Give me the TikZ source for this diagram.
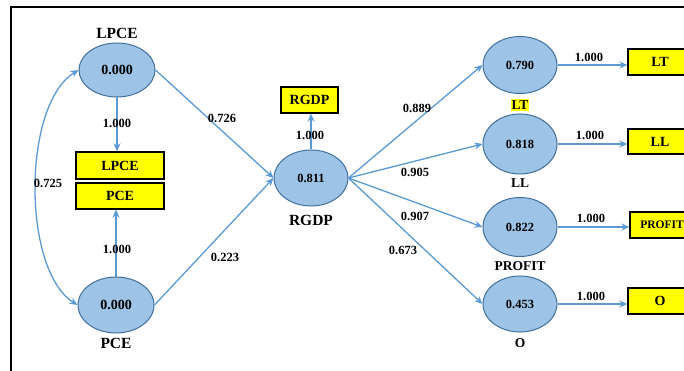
\documentclass[tikz,border=0pt]{standalone}
\usepackage{fontspec}
\setmainfont{Liberation Serif}
\usetikzlibrary{shapes.geometric,arrows.meta}
\definecolor{efill}{HTML}{9DC3E6}
\definecolor{edraw}{HTML}{41719C}
\definecolor{arr}{HTML}{5B9BD5}
\definecolor{ybox}{HTML}{FFFF00}
\tikzset{
  lat/.style={ellipse, draw=edraw, line width=1pt, fill=efill, minimum width=74pt, minimum height=57pt, inner sep=0pt, font=\bfseries\fontsize{12.5}{13}\selectfont},
  latL/.style={lat, minimum width=76pt, minimum height=54pt, font=\bfseries\fontsize{14}{15}\selectfont},
  ind/.style={rectangle, draw=black, line width=1.3pt, fill=ybox, inner sep=0pt, font=\bfseries\fontsize{14}{15}\selectfont},
  conn/.style={draw=arr, line width=1.3pt, -{Stealth[length=8pt,width=7pt]}},
  lbl/.style={font=\bfseries\fontsize{12.5}{13}\selectfont, inner sep=0pt},
  nameL/.style={font=\bfseries\fontsize{15.5}{16}\selectfont, inner sep=0pt},
  nameR/.style={font=\bfseries\fontsize{13.5}{14}\selectfont, inner sep=0pt}
}
\begin{document}
\begin{tikzpicture}[x=1pt,y=-1pt]
\useasboundingbox (0,0) rectangle (684,371);
\clip (0,0) rectangle (684,371);
\fill[white] (0,0) rectangle (684,371);
\draw[black, line width=1.4pt] (11,371) -- (11,7) -- (690,7);

% latent ellipses
\node[latL] (lpce) at (117,70) {0.000};
\node[latL, minimum height=56pt] (pce) at (116,305) {0.000};
\node[lat, minimum height=56pt] (rgdp) at (311,178) {0.811};
\node[lat] (lt) at (520,65) {0.790};
\node[lat, minimum height=60pt] (ll) at (520,144) {0.818};
\node[lat, minimum height=59pt] (profit) at (520,227) {0.822};
\node[lat, minimum height=56pt] (o) at (520,304) {0.453};

% names
\node[nameL] (nlpce) at (117,33) {LPCE};
\node[nameL] (npce) at (116,343) {PCE};
\node[nameL] (nrgdp) at (311,220) {RGDP};
\node[nameR, fill=ybox, inner xsep=1pt, inner ysep=1.5pt] (nlt) at (520,105) {LT};
\node[nameR] (nll) at (520,183) {LL};
\node[nameR] (nprofit) at (520,266) {PROFIT};
\node[nameR] (no) at (520,343) {O};

% indicator boxes
\node[ind, minimum width=88pt, minimum height=27pt] (blpce) at (120,165.5) {LPCE};
\node[ind, minimum width=88pt, minimum height=26pt] (bpce) at (120,196) {PCE};
\node[ind, minimum width=57pt, minimum height=26pt] (brgdp) at (309.5,100) {RGDP};
\node[ind, minimum width=64pt, minimum height=26pt] (blt) at (660,62) {LT};
\node[ind, minimum width=64pt, minimum height=25pt] (bll) at (660,141.5) {LL};
\node[ind, minimum width=64pt, minimum height=26pt, font=\bfseries\fontsize{11.5}{12}\selectfont] (bprofit) at (662,225) {PROFIT};
\node[ind, minimum width=64pt, minimum height=26pt] (bo) at (660,301) {O};

% connectors
\draw[conn] (lpce.south) -- (lpce.south |- blpce.north);
\draw[conn] (pce.north) -- (pce.north |- bpce.south);
\draw[conn] (rgdp.north) -- (rgdp.north |- brgdp.south);
\draw[conn, {Stealth[length=8pt,width=7pt]}-{Stealth[length=8pt,width=7pt]}] (lpce.west) .. controls (22,105) and (22,270) .. (pce.west);
\draw[conn] (lpce.east) -- (rgdp.west);
\draw[conn] (pce.east) -- (rgdp.west);
\draw[conn] (rgdp.east) -- (lt.west);
\draw[conn] (rgdp.east) -- (ll.west);
\draw[conn] (rgdp.east) -- (profit.west);
\draw[conn] (rgdp.east) -- (o.west);
\draw[conn] (lt.east) -- (lt.east -| blt.west);
\draw[conn] (ll.east) -- (ll.east -| bll.west);
\draw[conn] (profit.east) -- (profit.east -| bprofit.west);
\draw[conn] (o.east) -- (o.east -| bo.west);

% edge labels
\node[lbl] at (117,123) {1.000};
\node[lbl] at (117,249) {1.000};
\node[lbl] at (310,135) {1.000};
\node[lbl] at (48,183) {0.725};
\node[lbl] at (222,118) {0.726};
\node[lbl] at (225,257) {0.223};
\node[lbl] at (417,108) {0.889};
\node[lbl] at (415,172) {0.905};
\node[lbl] at (415,216) {0.907};
\node[lbl] at (403,250) {0.673};
\node[lbl] at (589,57) {1.000};
\node[lbl] at (590,135) {1.000};
\node[lbl] at (591,218) {1.000};
\node[lbl] at (591,296) {1.000};
\end{tikzpicture}
\end{document}
